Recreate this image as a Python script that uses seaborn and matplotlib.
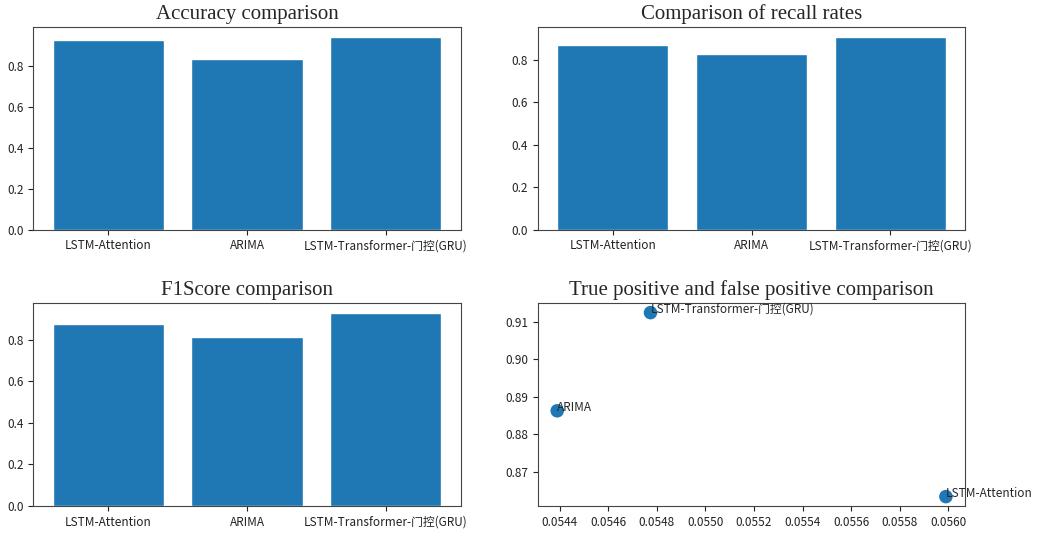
import matplotlib
matplotlib.use("Agg")
import matplotlib.pyplot as plt
import seaborn as sns
import pandas as pd

models = ["LSTM-Attention", "ARIMA", "LSTM-Transformer-门控(GRU)"]
accuracy = [0.930, 0.838, 0.945]
recall = [0.871, 0.827, 0.908]
f1score = [0.879, 0.814, 0.930]
fp_rate = [0.05599, 0.05439, 0.054774]
tp_rate = [0.8633, 0.8862, 0.9124]

titles = ["Accuracy comparison", "Comparison of recall rates",
          "F1Score comparison", "True positive and false positive comparison"]

sns.set_style("ticks")
tick_font = ["Noto Sans CJK SC", "DejaVu Sans"]
plt.rcParams["font.family"] = tick_font
plt.rcParams["axes.unicode_minus"] = False

fig, axes = plt.subplots(2, 2, figsize=(10.38, 5.33), dpi=100)
fig.subplots_adjust(left=0.032, right=0.930, top=0.949, bottom=0.051,
                    wspace=0.18, hspace=0.365)

BLUE = "#1f77b4"
bar_sets = [(axes[0, 0], accuracy), (axes[0, 1], recall), (axes[1, 0], f1score)]
for (ax, vals), title in zip(bar_sets, titles[:3]):
    df = pd.DataFrame({"model": models, "value": vals})
    sns.barplot(data=df, x="model", y="value", color=BLUE, saturation=1,
                width=0.8, ax=ax, errorbar=None)
    ax.autoscale(axis="x")
    ax.margins(x=0.05)
    ax.autoscale_view()
    ax.set_xlabel("")
    ax.set_ylabel("")
    ax.set_title(title, family="Liberation Serif", fontsize=15)

ax = axes[1, 1]
sdf = pd.DataFrame({"fp": fp_rate, "tp": tp_rate, "model": models})
sns.scatterplot(data=sdf, x="fp", y="tp", color=BLUE, s=95, edgecolor="none",
                ax=ax)
for xv, yv, name in zip(fp_rate, tp_rate, models):
    ax.text(xv, yv, name, fontsize=8.5, clip_on=False)
ax.set_xlabel("")
ax.set_ylabel("")
ax.set_title(titles[3], family="Liberation Serif", fontsize=15)
ax.set_xticks([0.0544, 0.0546, 0.0548, 0.0550, 0.0552, 0.0554, 0.0556, 0.0558, 0.0560])
ax.set_xticklabels([f"{v:.4f}" for v in ax.get_xticks()])

for a in axes.flat:
    a.tick_params(labelsize=8.5, colors="#222222")
    for sp in a.spines.values():
        sp.set_visible(True)
        sp.set_color("#444444")

fig.savefig("out.png", dpi=100)
